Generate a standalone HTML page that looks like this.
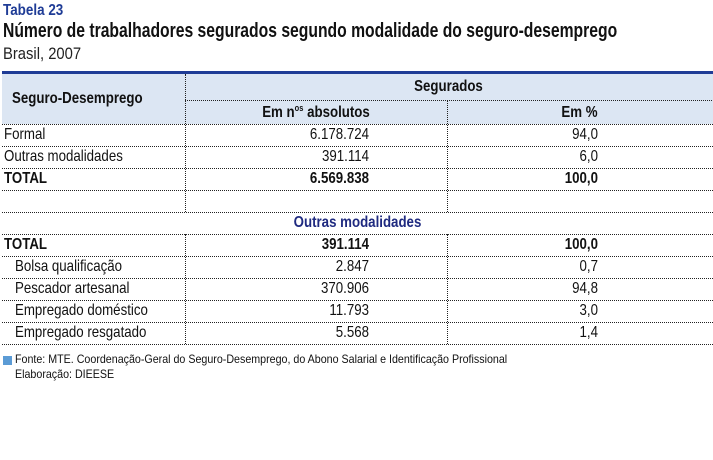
<!DOCTYPE html>
<html><head><meta charset="utf-8"><style>
body{margin:0;width:713px;height:460px;background:#fff;position:relative;overflow:hidden;font-family:"Liberation Sans",sans-serif;color:#111}
.a{position:absolute;white-space:nowrap;transform:scaleX(0.83);transform-origin:left center}
.hl{position:absolute;border-top:1px dotted #222;height:0}
.vl{position:absolute;border-left:1px dotted #222;width:0}
.r{text-align:right;transform-origin:right center}
.c{text-align:center;transform-origin:center center}
.b{font-weight:bold}
.t{font-size:16px;line-height:22px}
sup{font-size:9px;line-height:0;vertical-align:0;position:relative;top:-6px}
.bx{position:absolute}
</style></head><body>
<div class="a b" style="left:3px;top:2px;font-size:16px;color:#1f3c96;transform:scaleX(0.84)">Tabela 23</div>
<div class="a b" style="left:3px;top:20px;font-size:20px;transform:scaleX(0.785)">Número de trabalhadores segurados segundo modalidade do seguro-desemprego</div>
<div class="a" style="left:3px;top:44px;font-size:17px;color:#222;transform:scaleX(0.87)">Brasil, 2007</div>
<div class="bx" style="left:2px;top:71px;width:711px;height:3px;background:#1f3c96"></div>
<div class="bx" style="left:2px;top:74px;width:711px;height:50px;background:#dce6f3"></div>
<div class="a b t" style="left:12px;top:88px">Seguro-Desemprego</div>
<div class="a b t c" style="left:185px;width:527px;top:76px">Segurados</div>
<div class="a b t c" style="left:185px;width:262px;top:102px">Em n<sup>os</sup> absolutos</div>
<div class="a b t c" style="left:447px;width:265px;top:102px">Em %</div>
<div class="hl" style="left:185px;top:100px;width:527px"></div>
<div class="vl" style="left:185px;top:74px;height:138px"></div>
<div class="vl" style="left:447px;top:100px;height:112px"></div>
<div class="vl" style="left:185px;top:234px;height:110px"></div>
<div class="vl" style="left:447px;top:234px;height:110px"></div>
<div class="hl" style="left:2px;top:124px;width:711px"></div>
<div class="hl" style="left:2px;top:146px;width:711px"></div>
<div class="hl" style="left:2px;top:168px;width:711px"></div>
<div class="hl" style="left:2px;top:190px;width:711px"></div>
<div class="hl" style="left:2px;top:212px;width:711px"></div>
<div class="hl" style="left:2px;top:234px;width:711px"></div>
<div class="hl" style="left:2px;top:256px;width:711px"></div>
<div class="hl" style="left:2px;top:278px;width:711px"></div>
<div class="hl" style="left:2px;top:300px;width:711px"></div>
<div class="hl" style="left:2px;top:322px;width:711px"></div>
<div class="hl" style="left:2px;top:344px;width:711px"></div>

<div class="a t" style="left:4px;top:124px">Formal</div>
<div class="a t r" style="left:185px;width:184px;top:124px">6.178.724</div>
<div class="a t r" style="left:447px;width:151px;top:124px">94,0</div>
<div class="a t" style="left:4px;top:146px">Outras modalidades</div>
<div class="a t r" style="left:185px;width:184px;top:146px">391.114</div>
<div class="a t r" style="left:447px;width:151px;top:146px">6,0</div>
<div class="a t b" style="left:4px;top:168px">TOTAL</div>
<div class="a t r b" style="left:185px;width:184px;top:168px">6.569.838</div>
<div class="a t r b" style="left:447px;width:151px;top:168px">100,0</div>

<div class="a t b c" style="left:2px;width:711px;top:212px;color:#1f2a80">Outras modalidades</div>

<div class="a t b" style="left:4px;top:234px">TOTAL</div>
<div class="a t r b" style="left:185px;width:184px;top:234px">391.114</div>
<div class="a t r b" style="left:447px;width:151px;top:234px">100,0</div>
<div class="a t" style="left:15px;top:256px">Bolsa qualificação</div>
<div class="a t r" style="left:185px;width:184px;top:256px">2.847</div>
<div class="a t r" style="left:447px;width:151px;top:256px">0,7</div>
<div class="a t" style="left:15px;top:278px">Pescador artesanal</div>
<div class="a t r" style="left:185px;width:184px;top:278px">370.906</div>
<div class="a t r" style="left:447px;width:151px;top:278px">94,8</div>
<div class="a t" style="left:15px;top:300px">Empregado doméstico</div>
<div class="a t r" style="left:185px;width:184px;top:300px">11.793</div>
<div class="a t r" style="left:447px;width:151px;top:300px">3,0</div>
<div class="a t" style="left:15px;top:322px">Empregado resgatado</div>
<div class="a t r" style="left:185px;width:184px;top:322px">5.568</div>
<div class="a t r" style="left:447px;width:151px;top:322px">1,4</div>

<div class="bx" style="left:3px;top:356px;width:9px;height:9px;background:#5b9bd5"></div>
<div class="a" style="left:15px;top:352px;font-size:12px;line-height:15px;transform:scaleX(0.89)">Fonte: MTE. Coordenação-Geral do Seguro-Desemprego, do Abono Salarial e Identificação Profissional<br>Elaboração: DIEESE</div>
</body></html>
